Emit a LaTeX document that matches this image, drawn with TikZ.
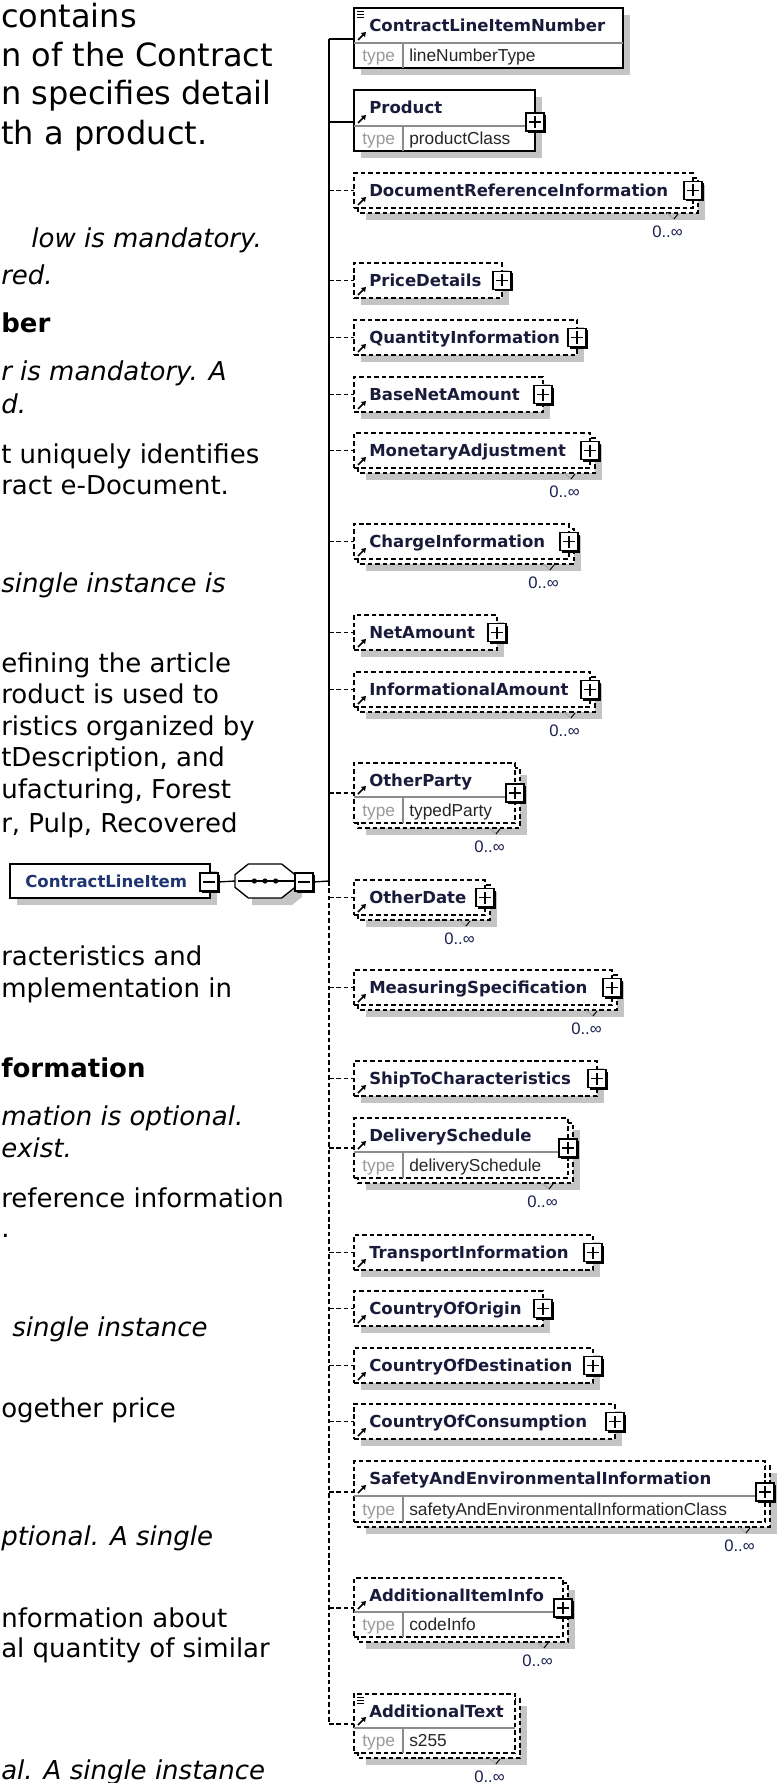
\documentclass[tikz,border=0pt]{standalone}
\usepackage{fontspec}
\setmainfont{DejaVu Sans}
\newfontfamily\docf{DejaVu Sans}
\newfontfamily\namef{DejaVu Sans}
\newfontfamily\typef{Liberation Sans}
\usetikzlibrary{arrows.meta}
\definecolor{shad}{HTML}{C4C4C4}
\definecolor{namec}{HTML}{1A1A3A}
\definecolor{rootc}{HTML}{1F3470}
\definecolor{occc}{HTML}{1A2050}
\definecolor{typec}{HTML}{9A9A9A}
\definecolor{divc}{HTML}{8C8C8C}
\tikzset{
  solidb/.style={draw=black, line width=1.1pt},
  dashb/.style={draw=black, line width=0.9pt, dash pattern=on 3.4pt off 2.2pt},
  solidbc/.style={line width=1pt},
  dashbc/.style={line width=1pt, dash pattern=on 3.4pt off 2.2pt},
  nametext/.style={font=\namef\bfseries\fontsize{12.4}{14}\selectfont, text=namec, inner sep=0pt, anchor=base west},
  typelbl/.style={font=\typef\fontsize{13}{15}\selectfont, text=typec, inner sep=0pt, anchor=base west},
  typename/.style={font=\typef\fontsize{13}{15}\selectfont, text=black!85, inner sep=0pt, anchor=base west},
  occ/.style={font=\typef\fontsize{12.5}{15}\selectfont, text=occc, inner sep=0pt, anchor=east},
  pbox/.style={draw=black, fill=white, line width=0.9pt, minimum size=13.5pt, inner sep=0pt, outer sep=0pt},
  docr/.style={font=\docf\fontsize{19.5}{23}\selectfont, inner sep=0pt, anchor=base west},
  doci/.style={font=\docf\itshape\fontsize{19.5}{23}\selectfont, inner sep=0pt, anchor=base west},
  docb/.style={font=\docf\bfseries\fontsize{19.5}{23}\selectfont, inner sep=0pt, anchor=base west},
  docbig/.style={font=\docf\fontsize{24}{28}\selectfont, inner sep=0pt, anchor=base west},
  icon/.style={line width=1.2pt, -{Triangle[length=3.2pt,width=4pt]}},
}
% #1 id, #2 y0, #3 x1, #4 y1, #5 divider (0 none), #6 name, #7 type, #8 border style, #9 multi
\newcommand\El[9]{%
  \pgfmathsetmacro\cy{#5>0 ? #5-4 : (#2+#4)/2}%
  \pgfmathsetmacro\ny{#5>0 ? (#2+#5)/2 : (#2+#4)/2}%
  \pgfmathsetmacro\ay{#5>0 ? #5-3 : #4-3}%
  \pgfmathsetmacro\ofs{#9>0 ? 5 : 0}%
  \pgfmathsetmacro\w{(#3-354)*0.75}%
  \pgfmathsetmacro\h{(#4-#2)*0.75}%
  \fill[shad] (354+\ofs+7,#2+\ofs+7) rectangle (#3+\ofs+7,#4+\ofs+7);
  \ifnum#9>0
    \draw[#8, fill=white] (358,#2+5) rectangle (#3+5,#4+5);
    \draw[gray!70, line width=0.7pt] (#3-26,#4+5) -- (#3-19,#4+11);
    \draw[black, line width=0.7pt] (#3-19,#4+11) -- (#3-15,#4+6);
  \fi
  \node[#8, fill=white, anchor=north west, minimum width=\w pt, minimum height=\h pt, inner sep=0pt, outer sep=0pt] (#1) at (354,#2) {};
  \node[nametext] (#1-n) at (369,\ny+6) {#6};
  \ifnum#5>0
    \pgfmathsetmacro\ty{(#5+#4)/2}%
    \draw[divc, line width=0.8pt] (354,#5) -- (#3,#5);
    \draw[divc, line width=0.8pt] (403,#5) -- (403,#4);
    \node[typelbl] (#1-tl) at (362,\ty+6) {type};
    \node[typename] (#1-tn) at (409,\ty+6) {#7};
  \fi
  \draw[icon] (358,\ay) -- (366,\ay-8);
  \coordinate (#1-j) at (329,\cy);
  \draw[#8c] (#1-j) -- (#1-j -| #1.west);
}
\newcommand\PlusOn[1]{%
  \path (#1.east |- #1-j) coordinate (#1-pc);
  \fill ([shift={(-7,-7)}]#1-pc) rectangle ([shift={(11,11)}]#1-pc);
  \node[pbox] (#1-p) at (#1-pc) {};
  \draw[line width=0.9pt] ([xshift=-4.5pt]#1-p.center) -- ([xshift=4.5pt]#1-p.center);
  \draw[line width=0.9pt] ([yshift=-4.5pt]#1-p.center) -- ([yshift=4.5pt]#1-p.center);
}
\newcommand\OccOn[1]{%
  \node[occ] (#1-o) at ([xshift=-7.5pt,yshift=-17.5pt]#1.south east) {0..∞};
}
\newcommand\MenuOn[1]{%
  \foreach \k in {3,6,9} {\draw[line width=0.6pt] ([shift={(3,\k)}]#1.north west) -- ([shift={(10,\k)}]#1.north west);}
}
\begin{document}
\begin{tikzpicture}[x=0.75pt, y=-0.75pt]
\useasboundingbox (0,0) rectangle (779,1783);
\clip (0,0) rectangle (779,1783);
% ---- background document text
\node[docbig] (t1) at (1,28) {contains};
\node[docbig] (t2) at (1,67) {n of the Contract};
\node[docbig] (t3) at (1,105) {n specifies detail};
\node[docbig] (t4) at (1,145) {th a product.};
\node[doci, anchor=base east] (t5) at (262,248) {low is mandatory.};
\node[doci] (t6) at (1,285) {red.};
\node[docb] (t7) at (1,333) {ber};
\node[doci] (t8) at (1,380) {r is mandatory. A};
\node[doci] (t9) at (1,413) {d.};
\node[docr] (t10) at (1,463) {t uniquely identifies};
\node[docr] (t11) at (1,494) {ract e-Document.};
\node[doci] (t12) at (1,592) {single instance is};
\node[docr] (t13) at (1,672) {efining the article};
\node[docr] (t14) at (1,703) {roduct is used to};
\node[docr] (t15) at (1,735) {ristics organized by};
\node[docr] (t16) at (1,766) {tDescription, and};
\node[docr] (t17) at (1,798) {ufacturing, Forest};
\node[docr] (t18) at (1,832) {r, Pulp, Recovered};
\node[docr] (t19) at (1,965) {racteristics and};
\node[docr] (t20) at (1,997) {mplementation in};
\node[docb] (t21) at (1,1077) {formation};
\node[doci] (t22) at (1,1125) {mation is optional.};
\node[doci] (t23) at (1,1157) {exist.};
\node[docr] (t24) at (1,1207) {reference information};
\node[docr] (t25) at (1,1237) {.};
\node[doci] (t26) at (12,1336) {single instance};
\node[docr] (t27) at (1,1417) {ogether price};
\node[doci] (t28) at (1,1545) {ptional. A single};
\node[docr] (t29) at (1,1627) {nformation about};
\node[docr] (t30) at (1,1657) {al quantity of similar};
\node[doci] (t31) at (1,1779) {al. A single instance};
% ---- root element
\fill[shad] (17,871) rectangle (217,905);
\node[solidb, fill=white, anchor=north west, minimum width=150pt, minimum height=25.5pt, inner sep=0pt, outer sep=0pt] (root) at (10,864) {};
\node[nametext, text=rootc] (root-n) at (25,887) {ContractLineItem};
\coordinate (root-pc) at (209,882);
\fill ([shift={(-7,-7)}]root-pc) rectangle ([shift={(11,11)}]root-pc);
\node[pbox] (root-m) at (root-pc) {};
\draw[line width=0.9pt] ([xshift=-4.5pt]root-m.center) -- ([xshift=4.5pt]root-m.center);
% ---- sequence compositor (octagon)
\node[minimum width=45pt, minimum height=25.5pt, inner sep=0pt, outer sep=0pt] (seq) at (265,881) {};
\fill[shad] ([shift={(17,7)}]seq.north west) -- ([shift={(57,7)}]seq.north west) -- ([shift={(67,16)}]seq.north west) -- ([shift={(67,33)}]seq.north west) -- ([shift={(57,41)}]seq.north west) -- ([shift={(17,41)}]seq.north west) -- cycle;
\draw[fill=white, line width=1pt] ([xshift=10]seq.north west) -- ([xshift=-10]seq.north east) -- ([yshift=-8]seq.north east) -- ([yshift=8]seq.south east) -- ([xshift=-10]seq.south east) -- ([xshift=10]seq.south west) -- ([yshift=8]seq.south west) -- ([yshift=-8]seq.north west) -- cycle;
\draw[line width=1pt] ([xshift=-20]seq.center) -- ([xshift=22]seq.center);
\foreach \dx in {-8,0,8} {\fill ([xshift=\dx]seq.center) circle (2.6);}
\coordinate (seq-pc) at (304,882);
\fill ([shift={(-7,-7)}]seq-pc) rectangle ([shift={(11,11)}]seq-pc);
\node[pbox] (seq-m) at (seq-pc) {};
\draw[line width=0.9pt] ([xshift=-4.5pt]seq-m.center) -- ([xshift=4.5pt]seq-m.center);
\draw[line width=1pt] (root-m.east) -- (seq.west);
\coordinate (jr) at (329,881);
\draw[line width=1pt] (seq-m.east) -- (jr);
% ---- children
\El{e1}{8}{623}{68}{43}{ContractLineItemNumber}{lineNumberType}{solidb}{0}
\MenuOn{e1}
\El{e2}{90}{535}{151}{126}{Product}{productClass}{solidb}{0}
\PlusOn{e2}
\El{e3}{173}{693}{208}{0}{DocumentReferenceInformation}{}{dashb}{1}
\PlusOn{e3}\OccOn{e3}
\El{e4}{263}{502}{298}{0}{PriceDetails}{}{dashb}{0}
\PlusOn{e4}
\El{e5}{320}{577}{355}{0}{QuantityInformation}{}{dashb}{0}
\PlusOn{e5}
\El{e6}{377}{543}{412}{0}{BaseNetAmount}{}{dashb}{0}
\PlusOn{e6}
\El{e7}{433}{590}{468}{0}{MonetaryAdjustment}{}{dashb}{1}
\PlusOn{e7}\OccOn{e7}
\El{e8}{524}{569}{559}{0}{ChargeInformation}{}{dashb}{1}
\PlusOn{e8}\OccOn{e8}
\El{e9}{615}{497}{650}{0}{NetAmount}{}{dashb}{0}
\PlusOn{e9}
\El{e10}{672}{590}{707}{0}{InformationalAmount}{}{dashb}{1}
\PlusOn{e10}\OccOn{e10}
\El{e11}{763}{515}{823}{797}{OtherParty}{typedParty}{dashb}{1}
\PlusOn{e11}\OccOn{e11}
\El{e12}{880}{485}{915}{0}{OtherDate}{}{dashb}{1}
\PlusOn{e12}\OccOn{e12}
\El{e13}{970}{612}{1005}{0}{MeasuringSpecification}{}{dashb}{1}
\PlusOn{e13}\OccOn{e13}
\El{e14}{1061}{597}{1096}{0}{ShipToCharacteristics}{}{dashb}{0}
\PlusOn{e14}
\El{e15}{1118}{568}{1178}{1152}{DeliverySchedule}{deliverySchedule}{dashb}{1}
\PlusOn{e15}\OccOn{e15}
\El{e16}{1235}{593}{1270}{0}{TransportInformation}{}{dashb}{0}
\PlusOn{e16}
\El{e17}{1291}{543}{1326}{0}{CountryOfOrigin}{}{dashb}{0}
\PlusOn{e17}
\El{e18}{1348}{593}{1383}{0}{CountryOfDestination}{}{dashb}{0}
\PlusOn{e18}
\El{e19}{1404}{615}{1439}{0}{CountryOfConsumption}{}{dashb}{0}
\PlusOn{e19}
\El{e20}{1461}{765}{1522}{1496}{SafetyAndEnvironmentalInformation}{safetyAndEnvironmentalInformationClass}{dashb}{1}
\PlusOn{e20}\OccOn{e20}
\El{e21}{1578}{563}{1637}{1612}{AdditionalItemInfo}{codeInfo}{dashb}{1}
\PlusOn{e21}\OccOn{e21}
\El{e22}{1694}{515}{1753}{1728}{AdditionalText}{s255}{dashb}{1}
\OccOn{e22}\MenuOn{e22}
% ---- spine
\draw[solidbc] (e1-j) -- (jr);
\draw[dashbc] (jr) -- (e22-j);
\end{tikzpicture}
\end{document}
